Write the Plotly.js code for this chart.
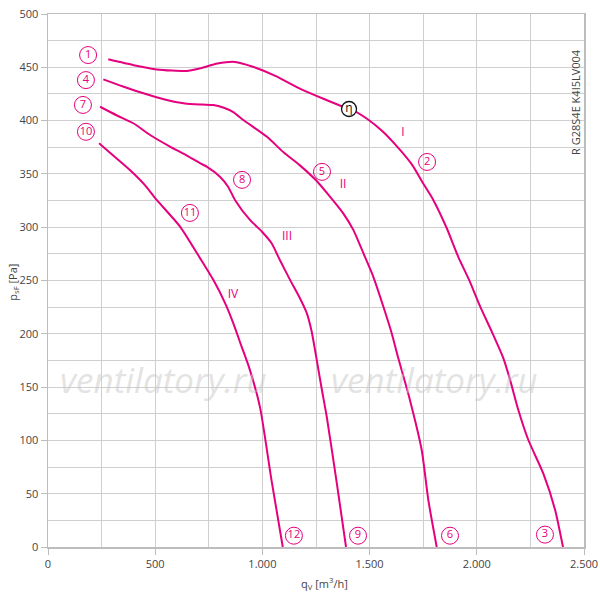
<!DOCTYPE html>
<html>
<head>
<meta charset="utf-8">
<script src="https://cdn.plot.ly/plotly-3.0.1.min.js"></script>
<style>html,body{margin:0;padding:0;background:#fff;}#chart{width:600px;height:601px;}</style>
</head>
<body>
<div id="chart"></div>
<script>
// Curve I (1 -> 2 -> 3)
const qI = [281, 400, 507, 647, 709, 790, 872, 956, 1060, 1175, 1290, 1377, 1409, 1486, 1560, 1642, 1700, 1750, 1797, 1860, 1914, 1964, 2017, 2073, 2124, 2155, 2193, 2240, 2310, 2365, 2402];
const pI = [457.5, 452, 448, 446.5, 449, 453.5, 455, 450.5, 442, 430, 420, 413, 411, 402, 390, 372.5, 358, 341, 325.6, 299, 272, 250.6, 225, 200.6, 177, 157, 129, 100.6, 69, 35, 0];
// Curve II (4 -> 5 -> 6)
const qII = [258, 350, 445, 540, 639, 720, 771, 820, 864, 911, 1020, 1100, 1175, 1250, 1315, 1377, 1424, 1471, 1517, 1564, 1603, 1634, 1688, 1743, 1774, 1813];
const pII = [438.7, 432, 425.6, 420, 416, 415, 414.6, 412, 408, 400.6, 385, 370, 358, 344, 328.7, 313, 297.5, 275.6, 253.7, 225.6, 200.6, 177, 138, 91, 44, 0];
// Curve III (7 -> 8 -> 9)
const qIII = [243, 320, 398, 480, 569, 650, 709, 740, 802, 840, 872, 942, 997, 1043, 1082, 1129, 1175, 1207, 1230, 1253, 1277, 1300, 1347, 1390];
const pIII = [413, 405, 397.5, 386, 375.6, 367, 360, 356.8, 347.4, 338, 325.6, 306.8, 296, 285, 269, 250.6, 233.4, 219.4, 202, 176, 148, 122.4, 60, 0];
// Curve IV (10 -> 11 -> 12)
const qIV = [238, 300, 382, 450, 507, 616, 709, 771, 826, 864, 903, 939, 989, 1043, 1095];
const pIV = [378.7, 368, 353.7, 340, 325.6, 300.6, 271, 250.6, 228.7, 210, 188, 167.8, 131, 62, 0];

// Circled point labels
const numLabels = ['1','4','7','10','2','5','8','11','3','6','9','12'];
const numQ = [187, 177, 163, 177, 1768, 1278, 905, 662, 2318, 1875, 1446, 1147];
const numP = [461.5, 438, 414.7, 389.5, 361.2, 351.9, 344.4, 313.4, 11.6, 10.6, 10.6, 10.6];
// Roman curve labels
const romLabels = ['I','II','III','IV'];
const romQ = [1656, 1376, 1115, 863];
const romP = [388.4, 339.7, 291, 236.6];
// Efficiency mark
const etaQ = [1404];
const etaP = [410.9];

const xTickVals = [0, 500, 1000, 1500, 2000, 2500];
const xTickText = ['0', '500', '1.000', '1.500', '2.000', '2.500'];

const pink = '#e5007d';
const font = 'Open Sans, Noto Sans, sans-serif';

function curve(q, p) {
  return {x: q, y: p, type: 'scatter', mode: 'lines', line: {color: pink, width: 2, shape: 'spline', smoothing: 0.6}, hoverinfo: 'skip', showlegend: false, cliponaxis: false};
}

const traces = [
  curve(qI, pI), curve(qII, pII), curve(qIII, pIII), curve(qIV, pIV),
  {x: numQ, y: numP, text: numLabels, type: 'scatter', mode: 'markers+text', textposition: 'middle center',
   marker: {symbol: 'circle', size: 17, color: 'rgba(255,255,255,0)', line: {color: pink, width: 1}},
   textfont: {color: pink, size: 11, family: font}, showlegend: false, cliponaxis: false},
  {x: romQ, y: romP, text: romLabels, type: 'scatter', mode: 'text', textposition: 'middle center',
   textfont: {color: pink, size: 12, family: font}, showlegend: false, cliponaxis: false},
  {x: etaQ, y: etaP, text: ['η'], type: 'scatter', mode: 'markers+text', textposition: 'middle center',
   marker: {symbol: 'circle', size: 15, color: '#fff', line: {color: '#111', width: 1.3}},
   textfont: {color: '#111', size: 12, family: font}, showlegend: false, cliponaxis: false}
];

const layout = {
  width: 600, height: 601,
  margin: {l: 48, r: 16, t: 14, b: 54},
  paper_bgcolor: '#fff', plot_bgcolor: '#fff',
  font: {family: font, size: 11, color: '#444'},
  showlegend: false,
  xaxis: {range: [0, 2500], tickvals: xTickVals, ticktext: xTickText, showgrid: true, gridcolor: '#cfcfcf', gridwidth: 1,
    minor: {dtick: 250, tick0: 0, showgrid: true, gridcolor: '#cfcfcf', gridwidth: 1},
    showline: true, linecolor: '#bdbdbd', linewidth: 1.5, mirror: true, ticks: 'outside', ticklen: 6, tickcolor: '#bdbdbd',
    zeroline: false, fixedrange: true, tickfont: {size: 11, color: '#444', family: font}},
  yaxis: {range: [0, 500], dtick: 50, tick0: 0, showgrid: true, gridcolor: '#cfcfcf', gridwidth: 1,
    minor: {dtick: 25, tick0: 0, showgrid: true, gridcolor: '#cfcfcf', gridwidth: 1},
    showline: true, linecolor: '#bdbdbd', linewidth: 1.5, mirror: true, ticks: 'outside', ticklen: 6, tickcolor: '#bdbdbd',
    zeroline: false, fixedrange: true, tickfont: {size: 11, color: '#444', family: font}},
  annotations: [
    {xref: 'paper', yref: 'paper', x: 0.515, y: -0.068, yanchor: 'middle', xanchor: 'center', showarrow: false,
     text: 'q<sub>V</sub> [m<sup>3</sup>/h]', font: {size: 11, color: '#444', family: font}},
    {xref: 'paper', yref: 'paper', x: -0.066, y: 0.497, xanchor: 'center', yanchor: 'middle', showarrow: false, textangle: -90,
     text: 'p<sub>sF</sub> [Pa]', font: {size: 11, color: '#444', family: font}},
    {xref: 'paper', yref: 'paper', x: 0.985, y: 0.835, xanchor: 'center', yanchor: 'middle', showarrow: false, textangle: -90,
     text: 'R G28S4E K4I5LV004', font: {size: 11, color: '#444', family: font}},
    {xref: 'paper', yref: 'paper', x: 0.215, y: 0.315, xanchor: 'center', yanchor: 'middle', showarrow: false,
     text: 'ventilatory.ru', font: {size: 35, color: 'rgba(200,200,200,0.5)', family: font, style: 'italic'}},
    {xref: 'paper', yref: 'paper', x: 0.722, y: 0.315, xanchor: 'center', yanchor: 'middle', showarrow: false,
     text: 'ventilatory.ru', font: {size: 35, color: 'rgba(200,200,200,0.5)', family: font, style: 'italic'}},
    {xref: 'paper', yref: 'paper', x: -0.085, y: -0.093, xanchor: 'left', yanchor: 'top', showarrow: false,
     text: 'Messung im Einbauort nach DIN EN ISO 5801', font: {size: 12, color: '#666', family: font}}
  ]
};

Plotly.newPlot('chart', traces, layout, {displayModeBar: false, staticPlot: true});
</script>
</body>
</html>
